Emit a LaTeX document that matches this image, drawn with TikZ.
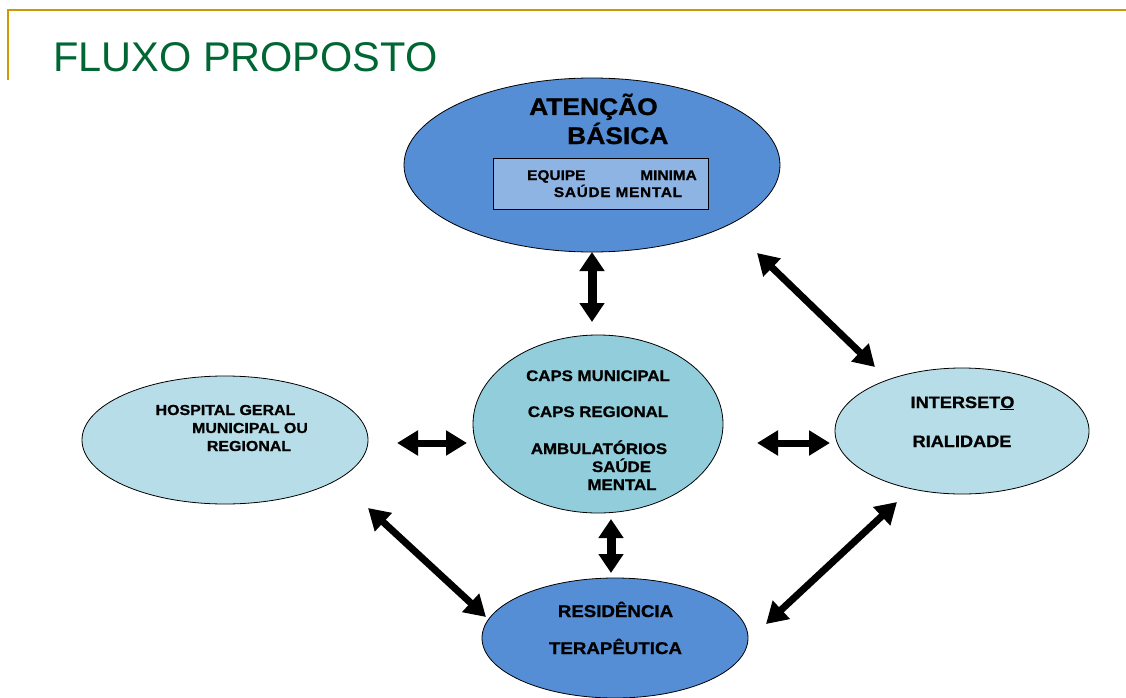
\documentclass[tikz,border=0pt]{standalone}
\usepackage{fontspec}
\setmainfont{Liberation Sans}
\newfontfamily\wb[FakeStretch=1.1,FakeBold=1]{Liberation Sans}
\usetikzlibrary{shapes.geometric,arrows.meta}
\definecolor{gold}{HTML}{CC9900}
\definecolor{titlegreen}{HTML}{006633}
\definecolor{darkblue}{HTML}{558ED5}
\definecolor{midblue}{HTML}{92CDDC}
\definecolor{paleblue}{HTML}{B7DEE8}
\definecolor{boxblue}{HTML}{8EB4E3}
\tikzset{
  oval/.style={ellipse, draw=black, line width=0.8pt, inner sep=0pt},
  lbl/.style={inner sep=0pt, anchor=base, font=\wb\bfseries},
  fatarrow/.style={line width=7pt, {Triangle[length=21pt,width=24pt]}-{Triangle[length=21pt,width=24pt]}},
  fatterarrow/.style={line width=9pt, {Triangle[length=19pt,width=24pt]}-{Triangle[length=19pt,width=24pt]}},
}
\begin{document}
\begin{tikzpicture}[x=1pt,y=-1pt]
\useasboundingbox (0,0) rectangle (1126,698);
% frame
\draw[gold, line width=2pt] (8,80) -- (8,10) -- (1126,10);
\node[anchor=base west, inner sep=0pt, text=titlegreen, font=\fontsize{41.5}{45}\selectfont] (title) at (53,72) {FLUXO PROPOSTO};

% ellipses
\node[oval, fill=darkblue, minimum width=376pt, minimum height=174pt] (ab) at (592,165) {};
\node[oval, fill=midblue, minimum width=250pt, minimum height=178pt] (caps) at (598,424) {};
\node[oval, fill=darkblue, minimum width=266pt, minimum height=120pt] (res) at (615,638) {};
\node[oval, fill=paleblue, minimum width=286pt, minimum height=128pt] (hosp) at (225,440) {};
\node[oval, fill=paleblue, minimum width=254pt, minimum height=126pt] (inter) at (962,431) {};

% inner box
\node[draw=black, line width=0.8pt, fill=boxblue, minimum width=215pt, minimum height=51pt, inner sep=0pt] (eq) at (600.5,183.5) {};

% texts
\node[lbl, anchor=base west, font=\wb\bfseries\fontsize{24}{28}\selectfont] (t1) at (529,115) {ATENÇÃO};
\node[lbl, anchor=base west, font=\wb\bfseries\fontsize{24}{28}\selectfont] (t2) at (567,144) {BÁSICA};
\node[lbl, anchor=base west, font=\wb\bfseries\fontsize{14}{16}\selectfont] (t3) at (527,180) {EQUIPE};
\node[lbl, anchor=base east, font=\wb\bfseries\fontsize{14}{16}\selectfont] (t4) at (697,180) {MINIMA};
\node[lbl, font=\wb\bfseries\fontsize{14}{16}\selectfont\addfontfeature{LetterSpace=5}] (t5) at (618,197) {SAÚDE MENTAL};

\node[lbl, font=\wb\bfseries\fontsize{15.3}{17}\selectfont] (c1) at (598,381) {CAPS MUNICIPAL};
\node[lbl, font=\wb\bfseries\fontsize{15.3}{17}\selectfont] (c2) at (598,417) {CAPS REGIONAL};
\node[lbl, font=\wb\bfseries\fontsize{15.3}{17}\selectfont] (c3) at (599,454) {AMBULATÓRIOS};
\node[lbl, font=\wb\bfseries\fontsize{15.3}{17}\selectfont] (c4) at (621.5,472) {SAÚDE};
\node[lbl, font=\wb\bfseries\fontsize{15.3}{17}\selectfont] (c5) at (622,490) {MENTAL};

\node[lbl, font=\wb\bfseries\fontsize{17}{19}\selectfont] (r1) at (615.5,617) {RESIDÊNCIA};
\node[lbl, font=\wb\bfseries\fontsize{17}{19}\selectfont] (r2) at (615.5,654) {TERAPÊUTICA};

\node[lbl, font=\wb\bfseries\fontsize{14.5}{16}\selectfont] (h1) at (225.5,415) {HOSPITAL GERAL};
\node[lbl, font=\wb\bfseries\fontsize{14.5}{16}\selectfont] (h2) at (250,433) {MUNICIPAL OU};
\node[lbl, font=\wb\bfseries\fontsize{14.5}{16}\selectfont] (h3) at (249,451) {REGIONAL};

\node[lbl, font=\wb\bfseries\fontsize{16.5}{18}\selectfont] (i1) at (962.5,408) {INTERSET\underline{O}};
\node[lbl, font=\wb\bfseries\fontsize{16.5}{18}\selectfont] (i2) at (962,447) {RIALIDADE};

% arrow end points
\coordinate (a1s) at (592,252); \coordinate (a1e) at (592,322);
\coordinate (a2s) at (757,253); \coordinate (a2e) at (875,367);
\coordinate (a3s) at (397,443); \coordinate (a3e) at (467,443);
\coordinate (a4s) at (757,443); \coordinate (a4e) at (830,443);
\coordinate (a5s) at (611,519); \coordinate (a5e) at (611,573);
\coordinate (a6s) at (368,508); \coordinate (a6e) at (486,617);
\coordinate (a7s) at (897,502); \coordinate (a7e) at (766,624);

\draw[fatterarrow] (a1s) -- (a1e);
\draw[fatarrow] (a2s) -- (a2e);
\draw[fatarrow] (a3s) -- (a3e);
\draw[fatarrow] (a4s) -- (a4e);
\draw[fatterarrow] (a5s) -- (a5e);
\draw[fatarrow] (a6s) -- (a6e);
\draw[fatarrow] (a7s) -- (a7e);
\end{tikzpicture}
\end{document}
